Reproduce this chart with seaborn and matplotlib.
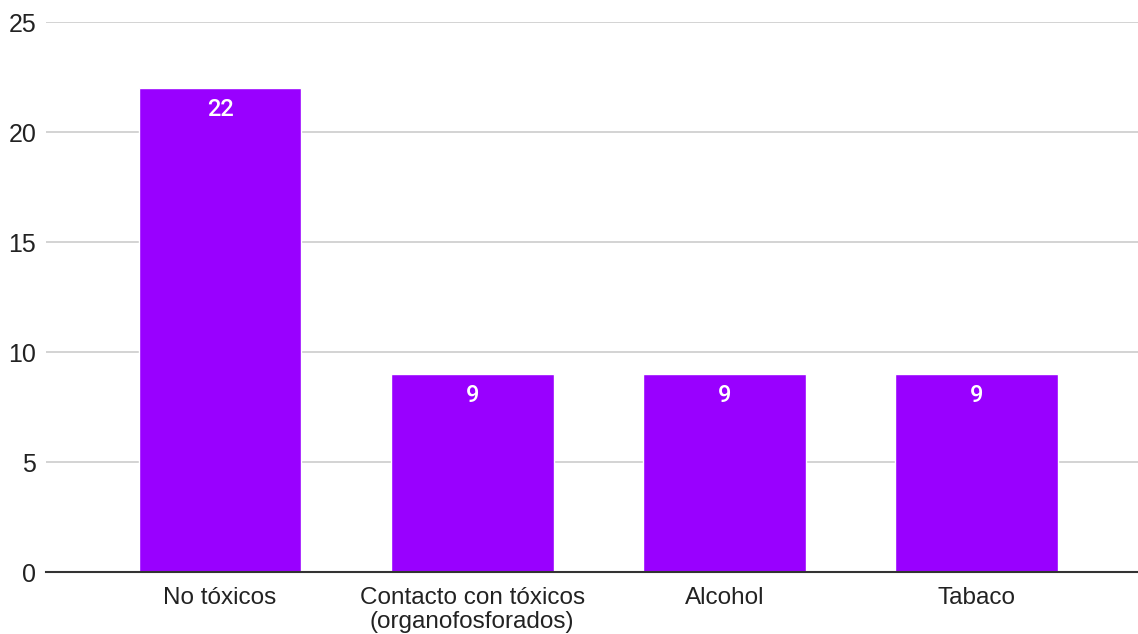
import matplotlib
matplotlib.use("Agg")
import matplotlib.pyplot as plt
import seaborn as sns
import pandas as pd

categories = ["No tóxicos", "Contacto con tóxicos\n(organofosforados)", "Alcohol", "Tabaco"]
values = [22, 9, 9, 9]
yticks = [0, 5, 10, 15, 20, 25]

sns.set_style("white")
plt.rcParams['font.family'] = ['Liberation Sans', 'DejaVu Sans']

df = pd.DataFrame({"cat": categories, "val": values})

fig = plt.figure(figsize=(11.38, 6.34), dpi=100)
ax = fig.add_axes([46/1138, 1 - 572/634, 1 - 46/1138, (572 - 22)/634])

sns.barplot(data=df, x="cat", y="val", color="#9900ff", saturation=1, width=0.645, ax=ax, zorder=3)

ax.set_ylim(0, 25)
ax.set_xlim(-0.69, 3.64)
ax.set_yticks(yticks)
ax.set_yticklabels([str(t) for t in yticks])
ax.yaxis.grid(True, color="#cccccc", linewidth=1.2, zorder=0)
ax.set_axisbelow(True)
for s in ["top", "right", "left"]:
    ax.spines[s].set_visible(False)
ax.spines["bottom"].set_color("#333333")
ax.spines["bottom"].set_linewidth(1.5)
ax.spines["bottom"].set_zorder(4)
ax.tick_params(axis="both", length=0, labelsize=17.5, colors="#222222")
ax.tick_params(axis="y", pad=7)
ax.tick_params(axis="x", pad=11)
ax.set_xlabel("")
ax.set_ylabel("")
for lbl in ax.get_yticklabels():
    lbl.set_fontsize(18)
for lbl in ax.get_xticklabels():
    lbl.set_linespacing(1.08)

for cont in ax.containers:
    ax.bar_label(cont, labels=[str(v) for v in values], label_type="edge", padding=-24,
                 color="white", fontsize=17, fontweight=500, family=["Roboto"])

fig.savefig("out.png", dpi=100)
